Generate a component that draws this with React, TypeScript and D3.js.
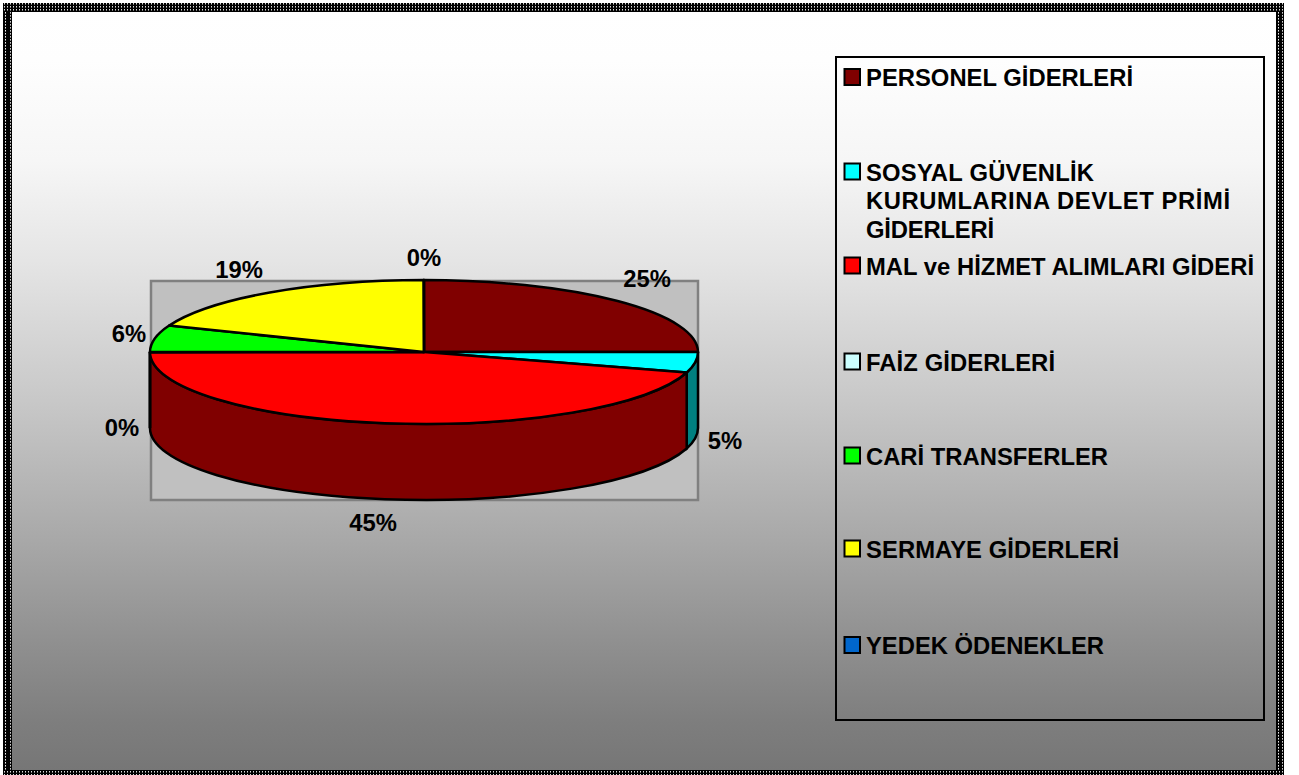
import React from "react";
import * as d3 from "d3";

const categories = [
  "PERSONEL GİDERLERİ",
  "SOSYAL GÜVENLİK KURUMLARINA DEVLET PRİMİ GİDERLERİ",
  "MAL ve HİZMET ALIMLARI GİDERİ",
  "FAİZ GİDERLERİ",
  "CARİ TRANSFERLER",
  "SERMAYE GİDERLERİ",
  "YEDEK ÖDENEKLER",
];
const values = [25, 4.6, 45.4, 0.02, 6, 19, 0.02];
const topColors = ["#800000", "#00FFFF", "#FF0000", "#CCFFFF", "#00FF00", "#FFFF00", "#0066CC"];
const sideColors = ["#660000", "#008080", "#800000", "#A0CCCC", "#00CC00", "#CCCC00", "#0052A3"];
const legendLines = [
  ["PERSONEL GİDERLERİ"],
  ["SOSYAL GÜVENLİK", "KURUMLARINA DEVLET PRİMİ", "GİDERLERİ"],
  ["MAL ve HİZMET ALIMLARI GİDERİ"],
  ["FAİZ GİDERLERİ"],
  ["CARİ TRANSFERLER"],
  ["SERMAYE GİDERLERİ"],
  ["YEDEK ÖDENEKLER"],
];
const legendLineWidths = [[267], [228, 364, 128], [388], [189], [242], [253], [238]];
const legendBaselines = [86, 180.5, 274.5, 370.5, 464.5, 557.5, 654];
const labelAnchors: [number, number][] = [
  [647, 287], [725, 449], [373, 531], [122, 436], [129, 342], [239, 278], [424, 266],
];
const gradientStops: [number, string][] = [
  [8, "#ffffff"], [60, "#fefefe"], [160, "#f6f6f6"], [260, "#e5e5e5"], [400, "#c8c8c8"],
  [540, "#a8a8a8"], [640, "#909090"], [720, "#7e7e7e"], [770, "#767676"],
];

const CX = 424, CY = 352, RX = 274, RY = 72, DEPTH = 76;
const FONT = "'Liberation Sans', Arial, sans-serif";
const FONT_SIZE = 23.8;

const pie = d3.pie<number>().sort(null).startAngle(0).endAngle(2 * Math.PI);
const arcs = pie(values);
const total = d3.sum(values);
const unitArc = d3.arc<d3.PieArcDatum<number>>().innerRadius(0).outerRadius(1);
const px = d3.scaleLinear().domain([-1, 1]).range([CX - RX, CX + RX]);
const py = d3.scaleLinear().domain([-1, 1]).range([CY - RY, CY + RY]);
const gradY = d3.scaleLinear().domain([8, 770]).range([0, 1]);

function sidePath(a0: number, a1: number) {
  const s = Math.max(a0, Math.PI / 2), e = Math.min(a1, (3 * Math.PI) / 2);
  if (e <= s) return null;
  const x0 = px(Math.sin(s)), y0 = py(-Math.cos(s));
  const x1 = px(Math.sin(e)), y1 = py(-Math.cos(e));
  return `M${x0},${y0}A${RX},${RY} 0 0 1 ${x1},${y1}L${x1},${y1 + DEPTH}A${RX},${RY} 0 0 0 ${x0},${y0 + DEPTH}Z`;
}

export default function App() {
  return (
    <svg width={1299} height={775} style={{ position: "absolute", left: 0, top: 0, display: "block" }}>
      <defs>
        <linearGradient id="bg" x1="0" y1="0" x2="0" y2="1">
          {gradientStops.map(([y, c]) => (
            <stop key={y} offset={gradY(y)} stopColor={c} />
          ))}
        </linearGradient>
        <pattern id="frameV" x={3} y={0} width={9} height={3} patternUnits="userSpaceOnUse">
          <rect width={9} height={3} fill="#000" />
          <rect x={2} y={0} width={1} height={1} fill="#eee" />
          <rect x={2} y={1} width={1} height={1} fill="#888" />
          <rect x={7} y={0} width={1} height={1} fill="#ccc" />
          <rect x={7} y={1} width={1} height={1} fill="#888" />
        </pattern>
        <pattern id="frameVR" x={1276} y={0} width={9} height={3} patternUnits="userSpaceOnUse">
          <rect width={9} height={3} fill="#000" />
          <rect x={2} y={0} width={1} height={1} fill="#eee" />
          <rect x={2} y={1} width={1} height={1} fill="#888" />
          <rect x={6} y={0} width={1} height={1} fill="#ccc" />
          <rect x={6} y={1} width={1} height={1} fill="#888" />
        </pattern>
        <pattern id="frameH" x={0} y={3} width={3} height={3} patternUnits="userSpaceOnUse">
          <rect width={3} height={3} fill="#000" />
          <rect x={1} y={0} width={1} height={1} fill="#ddd" />
          <rect x={1} y={1} width={1} height={1} fill="#777" />
        </pattern>
      </defs>
      <rect x={0} y={0} width={1299} height={775} fill="#fff" />
      <rect x={3} y={8} width={1278} height={763} fill="url(#bg)" />
      <rect x={3} y={3} width={1281} height={9} fill="url(#frameH)" />
      <rect x={3} y={770} width={1281} height={5} fill="url(#frameH)" />
      <rect x={3} y={12} width={9} height={758} fill="url(#frameV)" />
      <rect x={1276} y={12} width={8} height={758} fill="url(#frameVR)" />
      {/* plot area */}
      <rect x={151} y={281} width={547} height={219} fill="#c0c0c0" stroke="#808080" strokeWidth={2.5} />
      {/* side walls */}
      {arcs.map((a, i) => {
        const d = sidePath(a.startAngle, a.endAngle);
        return d ? <path key={i} d={d} fill={sideColors[i]} stroke="#000" strokeWidth={2.5} /> : null;
      })}
      {/* top faces */}
      <g transform={`translate(${CX},${CY}) scale(${RX},${RY})`}>
        {arcs.map((a, i) => (
          <path
            key={i}
            d={unitArc(a) || ""}
            fill={topColors[i]}
            stroke="#000"
            strokeWidth={2.5}
            vectorEffect="non-scaling-stroke"
            strokeLinejoin="round"
          />
        ))}
      </g>
      {/* data labels */}
      <g fontFamily={FONT} fontWeight="bold" fontSize={FONT_SIZE} fill="#000" textAnchor="middle">
        {values.map((v, i) => (
          <text key={i} x={labelAnchors[i][0]} y={labelAnchors[i][1]}>
            {Math.round((v / total) * 100)}%
          </text>
        ))}
      </g>
      {/* legend */}
      <rect x={836} y={57} width={428} height={663} fill="none" stroke="#000" strokeWidth={2} />
      {categories.map((c, i) => (
        <g key={c}>
          <rect x={844.5} y={legendBaselines[i] - 17} width={15.5} height={16} fill={topColors[i]} stroke="#000" strokeWidth={2} />
          {legendLines[i].map((line, j) => (
            <text
              key={j}
              x={866}
              y={legendBaselines[i] + j * 28.5}
              fontFamily={FONT}
              fontWeight="bold"
              fontSize={FONT_SIZE}
              fill="#000"
              textLength={legendLineWidths[i][j]}
              lengthAdjust="spacing"
            >
              {line}
            </text>
          ))}
        </g>
      ))}
    </svg>
  );
}
